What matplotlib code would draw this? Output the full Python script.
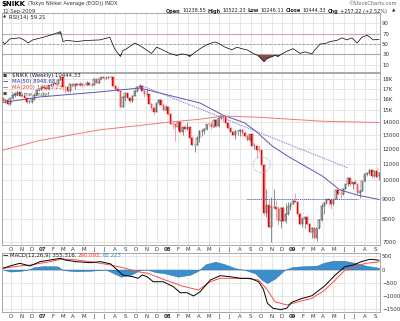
import matplotlib
matplotlib.use('Agg')
import matplotlib.pyplot as plt
import matplotlib.dates as mdates
from matplotlib.patches import Ellipse
import numpy as np
import pandas as pd

# weekly candles, $NIKK, week ending Friday
weeks = pd.date_range('2006-09-08', '2009-09-11', freq='W-FRI')

opens = [16150, 15850, 15950, 15560, 16127, 16436, 16537, 16651, 16351, 16350, 16113, 15725, 15734, 16000, 16417, 16900, 16900,
         17225, 17091, 16942, 17371, 17421, 17547, 17504, 17897, 18188, 17217, 17164, 16744, 17481, 17288, 17490, 17364, 17452,
         17400, 17394, 17553, 17399, 17417, 17979, 17638, 18001, 18189, 18138, 18140, 18238, 18157, 17283, 16979, 16765, 15273,
         16248, 16569, 16122, 15800, 16313, 16786, 17200, 17331, 16814, 16505, 16517, 15583, 15200, 14888, 15680, 15956, 15514,
         15031,
         15307, 14691, 13863, 13861, 13630, 14000, 13207, 13622, 13500, 13603, 12782, 12241, 12260, 12820, 13293, 13323, 13476,
         13863, 13849, 13655, 14219, 13690, 14338, 14489, 14400, 13942, 13544, 13237, 13039, 13334, 13334, 13376, 13168, 12956,
         12666, 13072, 12212, 12214, 11920, 11893, 10938, 8276, 8693, 7649, 8576, 8583, 8462, 7910, 8512, 7917, 8235, 8588,
         8739, 8859, 8836, 8230, 7745, 7994, 8076, 7779, 7416, 7568, 7173, 7569, 7945, 8626, 8749, 8964, 8907, 8707, 8977, 9432,
         9265, 9225, 9523, 9768, 10135, 9786, 9877, 9816, 9287, 9395, 9944, 10357, 10412, 10597, 10238, 10534, 10238]
highs = [16250, 16000, 16050, 16150, 16450, 16550, 16800, 16700, 16450, 16400, 16200, 15900, 16150, 16450, 16950, 17100, 17250,
         17400, 17150, 17400, 17600, 17600, 17650, 17950, 18300, 18250, 17300, 17300, 17500, 17550, 17550, 17600, 17650, 17550,
         17450, 17800, 17650, 17600, 18000, 18150, 18050, 18250, 18200, 18300, 18300, 18270, 18200, 17400, 17300, 16800, 16300,
         16600, 16650, 16150, 16400, 16850, 17250, 17450, 17350, 16900, 16950, 16550, 15700, 15400, 15700, 16000, 16050, 15550,
         15450,
         15350, 14750, 14000, 13900, 14050, 14000, 13700, 13900, 14000, 13650, 12950, 12300, 12900, 13400, 13500, 13550, 13900,
         14000, 14100, 14250, 14300, 14400, 14600, 14550, 14500, 14000, 13600, 13350, 13400, 13400, 13450, 13400, 13350, 13000,
         13100, 13100, 12450, 12250, 12250, 11900, 10950, 9500, 9000, 9100, 9500, 8900, 8600, 8550, 8600, 8750, 8800, 8800,
         8900, 9300, 8850, 8300, 8100, 8100, 8150, 7800, 7650, 7600, 7600, 8000, 8700, 8800, 9000, 9050, 8950, 9000, 9450,
         9500, 9400, 9550, 9800, 10150, 10200, 9900, 10100, 9850, 9450, 9950, 10400, 10450, 10650, 10600, 10550, 10770, 10522]
lows = [15750, 15700, 15450, 15500, 16000, 16250, 16450, 16300, 16250, 15950, 15600, 15620, 15700, 15950, 16400, 16800, 16880,
        17000, 16850, 16900, 17300, 17250, 17400, 17500, 17880, 16900, 16550, 16600, 16740, 17150, 17000, 17300, 17250, 17200,
        17250, 17350, 17300, 17250, 17400, 17550, 17600, 17950, 17900, 18000, 18100, 17950, 17200, 16850, 16700, 15250, 15300,
        15850, 16050, 15700, 15750, 16300, 16700, 17050, 16750, 16250, 16300, 15550, 15050, 14650, 14850, 15450, 15450, 14950,
        15000,
        14650, 13800, 13500, 12570, 13400, 13150, 13000, 13300, 13400, 12700, 12200, 11790, 12250, 12500, 12950, 13100, 13400,
        13700, 13500, 13600, 13650, 13600, 14200, 14000, 13900, 13500, 13200, 12900, 12700, 13000, 12900, 12950, 12850, 12600,
        12550, 12200, 12000, 11400, 11800, 10900, 8200, 8100, 7600, 6995, 8500, 8000, 7700, 7600, 7850, 7800, 8200, 8400,
        8700, 8800, 8100, 7700, 7650, 7600, 7700, 7350, 7150, 7150, 7054, 7550, 7900, 8250, 8700, 8650, 8450, 8650, 8950,
        9200, 9050, 9200, 9500, 9700, 9700, 9500, 9800, 9250, 9050, 9380, 9900, 10250, 10300, 10150, 10200, 10150, 10046]
closes = [15850, 15950, 15560, 16127, 16436, 16537, 16651, 16351, 16350, 16113, 15725, 15734, 16000, 16417, 16900, 16900, 17225,
          17091, 16942, 17371, 17421, 17547, 17504, 17897, 18188, 17217, 17164, 16744, 17481, 17288, 17490, 17364, 17452, 17400,
          17394, 17553, 17399, 17417, 17979, 17638, 18001, 18189, 18138, 18140, 18238, 18157, 17283, 16979, 16765, 15273, 16248,
          16569, 16122, 15800, 16313, 16786, 17200, 17331, 16814, 16505, 16517, 15583, 15200, 14888, 15680, 15956, 15514, 15031,
          15307,
          14691, 13863, 13861, 13630, 14000, 13207, 13622, 13500, 13603, 12782, 12241, 12260, 12820, 13293, 13323, 13476, 13863,
          13849, 13655, 14219, 13690, 14338, 14489, 14400, 13942, 13544, 13237, 13039, 13334, 13334, 13376, 13168, 12956, 12666,
          13072, 12212, 12214, 11920, 11893, 10938, 8276, 8693, 7649, 8576, 8583, 8462, 7910, 8512, 7917, 8235, 8588, 8739,
          8859, 8836, 8230, 7745, 7994, 8076, 7779, 7416, 7568, 7173, 7569, 7945, 8626, 8749, 8964, 8907, 8707, 8977, 9432, 9265,
          9225, 9523, 9768, 10135, 9786, 9877, 9816, 9287, 9395, 9944, 10357, 10412, 10597, 10238, 10534, 10187, 10444]

# moving averages
ma50_dates = ['2006-09-08', '2006-12-24', '2007-06-14', '2007-10-13', '2008-04-06', '2008-06-11', '2008-08-14',
              '2008-09-18', '2008-11-03', '2008-12-23', '2009-03-29', '2009-05-19', '2009-07-08', '2009-09-11']
ma50_vals = [15700, 16220, 16690, 17080, 15660, 14610, 13960, 13250, 12200, 11440, 10260, 9470, 9190, 8949]
ma200_dates = ['2006-09-08', '2006-12-24', '2007-06-14', '2008-01-05', '2008-04-06', '2008-06-11', '2008-09-18',
               '2008-12-23', '2009-03-29', '2009-09-11']
ma200_vals = [11920, 12600, 13390, 14010, 14260, 14520, 14430, 14260, 14090, 13985]

# drawn annotations
trend_dates = ['2007-10-13', '2009-06-12']
trend_vals = [17390, 10750]
support_dates = ['2008-08-21', '2009-07-12']
support_vals = [9000, 9000]

# RSI(14)
rsi_dates = ['2006-09-08', '2006-09-13', '2006-09-28', '2006-10-27', '2006-11-11', '2006-11-20', '2006-12-04',
             '2007-01-03', '2007-02-07', '2007-02-23', '2007-03-02', '2007-03-14', '2007-04-12', '2007-05-11',
             '2007-06-18', '2007-07-17', '2007-07-31', '2007-08-17', '2007-08-24', '2007-09-04', '2007-09-28',
             '2007-10-13', '2007-10-27', '2007-11-16', '2007-12-01', '2007-12-18', '2008-01-08', '2008-01-29',
             '2008-02-13', '2008-02-28', '2008-03-07', '2008-03-22', '2008-04-06', '2008-04-26', '2008-05-19',
             '2008-05-28', '2008-06-18', '2008-07-08', '2008-07-23', '2008-08-06', '2008-08-21', '2008-09-08',
             '2008-09-22', '2008-10-10', '2008-10-17', '2008-10-27', '2008-11-11', '2008-11-20', '2008-12-01',
             '2008-12-19', '2009-01-03', '2009-01-23', '2009-02-07', '2009-02-27', '2009-03-08', '2009-03-23',
             '2009-04-12', '2009-04-21', '2009-05-11', '2009-05-26', '2009-06-09', '2009-06-24', '2009-07-09',
             '2009-07-23', '2009-08-07', '2009-08-16', '2009-08-25', '2009-09-11']
rsi_vals = [54, 50, 60, 62, 57, 52, 58, 63, 70, 74, 55, 57, 55, 57, 58, 63, 41, 26, 37, 41, 52, 47, 41, 32, 44, 39, 32,
            28, 31, 29, 26, 34, 41, 49, 54, 52, 44, 39, 44, 41, 39, 32, 28, 16, 21, 24, 28, 26, 31, 37, 41, 32, 35, 31,
            39, 50, 52, 55, 57, 62, 58, 62, 52, 63, 67, 63, 58, 59.21]

# MACD(12,26,9)
macd_dates = ['2006-09-08', '2006-09-28', '2006-10-27', '2006-11-26', '2006-12-25', '2007-01-24', '2007-02-23',
              '2007-03-09', '2007-04-08', '2007-05-21', '2007-06-20', '2007-07-20', '2007-08-24', '2007-09-22',
              '2007-10-08', '2007-10-20', '2007-11-03', '2007-11-21', '2007-12-20', '2008-01-19', '2008-02-08',
              '2008-02-28', '2008-03-18', '2008-04-06', '2008-05-06', '2008-06-04', '2008-07-03', '2008-08-01',
              '2008-08-31', '2008-09-24', '2008-10-08', '2008-10-20', '2008-11-05', '2008-11-28', '2008-12-15',
              '2008-12-30', '2009-01-30', '2009-02-27', '2009-04-06', '2009-05-06', '2009-06-04', '2009-06-28',
              '2009-07-21', '2009-08-16', '2009-09-11']
macd_vals = [45, 134, 237, 134, 300, 363, 427, 363, 300, 260, 300, 210, -210, -275, -336, -210, -275, -466, -466,
             -656, -885, -885, -1011, -850, -400, -237, -275, -336, -336, -466, -750, -1290, -1480, -1530, -1480,
             -1250, -1100, -1000, -620, -210, 110, 170, 300, 390, 355.316]
signal_dates = ['2006-09-08', '2006-10-27', '2006-11-26', '2007-01-24', '2007-02-23', '2007-03-24', '2007-05-21',
                '2007-07-20', '2007-08-19', '2007-10-08', '2007-11-06', '2007-12-26', '2008-02-14', '2008-04-01',
                '2008-05-06', '2008-06-04', '2008-08-16', '2008-09-24', '2008-10-20', '2008-11-11', '2008-12-15',
                '2009-01-30', '2009-02-27', '2009-04-06', '2009-05-06', '2009-06-04', '2009-07-04', '2009-08-03',
                '2009-09-11']
signal_vals = [45, 134, 170, 300, 390, 390, 300, 170, 85, -85, -145, -400, -630, -782, -466, -336, -336, -400, -780,
               -1230, -1355, -1190, -1100, -782, -400, -20, 107, 237, 290.093]
hist_dates = ['2006-09-08', '2006-09-28', '2006-10-27', '2006-11-20', '2006-12-10', '2007-01-08', '2007-02-15',
              '2007-03-02', '2007-04-08', '2007-05-21', '2007-07-05', '2007-07-29', '2007-08-19', '2007-09-17',
              '2007-10-13', '2007-11-03', '2007-11-27', '2007-12-26', '2008-02-02', '2008-03-09', '2008-04-01',
              '2008-04-22', '2008-05-21', '2008-06-18', '2008-07-18', '2008-08-16', '2008-09-14', '2008-10-04',
              '2008-10-19', '2008-11-11', '2008-12-11', '2009-01-03', '2009-02-07', '2009-03-14', '2009-04-01',
              '2009-05-01', '2009-06-04', '2009-07-04', '2009-08-03', '2009-09-11']
hist_vals = [0, -80, -60, 0, 100, 130, 120, -20, -70, -50, 0, -150, -275, -200, -30, 0, -100, -150, -275, -200, -50,
             200, 300, 200, 50, -20, -150, -400, -520, -350, 0, 100, 130, 150, 250, 340, 330, 250, 150, 65.223]

W, H = 400, 321
FS = 3.9


def rect(x0, y0, x1, y1):
    return [x0 / W, 1 - y1 / H, (x1 - x0) / W, (y1 - y0) / H]


def ftext(x, y, s, **kw):
    kw.setdefault('fontsize', FS)
    kw.setdefault('va', 'center')
    return fig.text(x / W, 1 - y / H, s, **kw)


def chain(x, y, parts, gap=1.8):
    # place texts one after another, measuring each
    r = fig.canvas.get_renderer()
    for s, kw in parts:
        t = ftext(x, y, s, **kw)
        bb = t.get_window_extent(r)
        x = bb.x1 + gap
    return x


d = lambda lst: pd.to_datetime(lst)

fig = plt.figure(figsize=(4, 3.21), dpi=100)
fig.patch.set_facecolor('white')

x0 = pd.Timestamp('2006-09-05')
x1 = pd.Timestamp('2009-09-14')
months = pd.date_range('2006-10-01', '2009-09-01', freq='MS')
mlabels = [m.strftime('%y') if m.month == 1 else m.strftime('%b')[0] for m in months]

ax_rsi = fig.add_axes(rect(2, 13, 380, 72))
ax = fig.add_axes(rect(2, 73, 380, 245))
ax_m = fig.add_axes(rect(2, 253, 380, 312))

for a in (ax_rsi, ax, ax_m):
    a.set_xlim(x0, x1)
    a.set_xticks(months)
    a.yaxis.tick_right()
    a.tick_params(length=0, labelsize=FS, pad=1.5, colors='#333333')
    a.grid(True, color='#dcdcdc', lw=0.5)
    a.set_axisbelow(True)
    for s in a.spines.values():
        s.set_color('#9a9a9a')
        s.set_linewidth(0.6)

# RSI panel
ax_rsi.set_ylim(-4, 110)
ax_rsi.set_yticks([10, 30, 50, 70, 90])
ax_rsi.set_xticklabels([])
ax_rsi.axhline(70, color='#c8a8a8', lw=0.8)
ax_rsi.axhline(30, color='#a8a8a8', lw=0.8)
ax_rsi.axhline(50, color='#888888', lw=0.5, ls=(0, (4, 2)))
rd = d(rsi_dates)
rv = np.array(rsi_vals, dtype=float)
ax_rsi.fill_between(rd, rv, 30, where=rv < 30, interpolate=True, color='#8b4848', lw=0)
ax_rsi.fill_between(rd, rv, 70, where=rv > 70, interpolate=True, color='#4a6a8a', lw=0)
ax_rsi.plot(rd, rv, color='black', lw=0.5)

# main price panel (log scale)
ax.set_yscale('log')
ax.set_ylim(6874, 18637)
pticks = [7000, 8000, 9000, 10000, 11000, 12000, 13000, 14000, 15000, 16000, 17000, 18000]
ax.set_yticks(pticks)
ax.set_yticklabels([str(t) if t < 15000 else '%dK' % (t // 1000) for t in pticks])
ax.yaxis.set_minor_locator(matplotlib.ticker.NullLocator())
ax.set_xticklabels(mlabels)
for lbl, m in zip(ax.get_xticklabels(), months):
    if m.month == 1:
        lbl.set_fontweight('bold')

o = np.array(opens, dtype=float)
h = np.array(highs, dtype=float)
l = np.array(lows, dtype=float)
c = np.array(closes, dtype=float)
prev = np.concatenate([[o[0]], c[:-1]])
down = c < prev
cols = np.where(down, '#e00000', '#202020')
wick = np.where(down, '#f08080', '#606060')
ax.vlines(weeks, l, h, colors=wick, lw=0.5)
filled = c < o
lo_b = np.minimum(o, c)
hi_b = np.maximum(o, c)
ax.bar(weeks, hi_b - lo_b, bottom=lo_b, width=4.5, color=np.where(filled, cols, 'white'),
       edgecolor=cols, linewidth=0.35)

ax.plot(d(ma50_dates), ma50_vals, color='#5858b0', lw=0.7)
ax.plot(d(ma200_dates), ma200_vals, color='#f07878', lw=0.7)
ax.plot(d(trend_dates), trend_vals, color='#6a6ad0', lw=0.7, ls=(0, (1, 1)))
ax.plot(d(support_dates), support_vals, color='#5050c0', lw=0.7, ls=(0, (1, 1)))
ell = Ellipse((mdates.date2num(pd.Timestamp('2008-10-03')), 10950), width=50, height=1000,
              fill=False, edgecolor='#8aa8d8', lw=0.6, ls=(0, (1, 1)))
ax.add_patch(ell)

# legend inside main panel
lx = 12
ftext(3, 76, '\u25a0', color='#444444', fontsize=3.2)
ftext(lx, 76, '$NIKK (Weekly) 10444.33', color='#222222')
ftext(3, 82, '\u2014', color='#3030a0', fontweight='bold')
ftext(lx, 82, 'MA(50) 8948.68', color='#3030a0')
ftext(3, 88, '\u2014', color='#e04040', fontweight='bold')
ftext(lx, 88, 'MA(200) 13985.23', color='#e04040')
ftext(3, 94, '\u25a0', color='#555555', fontsize=3.2)
ftext(lx, 94, 'Volume undef', color='#555555')

# MACD panel
ax_m.set_ylim(-1622, 630)
ax_m.set_yticks([500, 0, -500, -1000, -1500])
ax_m.set_xticklabels(mlabels)
for lbl, m in zip(ax_m.get_xticklabels(), months):
    if m.month == 1:
        lbl.set_fontweight('bold')
hd = d(hist_dates)
ax_m.fill_between(hd, 0, hist_vals, color='#3d8fcc', lw=0.3, edgecolor='#2a70a8')
ax_m.plot(d(signal_dates), signal_vals, color='#ff4a4a', lw=0.7)
ax_m.plot(d(macd_dates), macd_vals, color='black', lw=0.7)
ftext(3, 255.5, '\u2014', color='black', fontweight='bold')
chain(10, 255.5, [('MACD(12,26,9) 355.316,', dict(color='#222222')),
                  ('290.093,', dict(color='#ff3030')),
                  ('65.223', dict(color='#3d8fcc'))], gap=1.2)

# header
chain(2, 4, [('$NIKK', dict(fontweight='bold', fontsize=5)),
             ('(Tokyo Nikkei Average (EOD)) INDX', dict(color='#333333', fontsize=3.7))], gap=1.5)
ftext(2, 11, '11-Sep-2009', color='#333333', fontsize=3.7)
ftext(397, 3.5, '\u00a9StockCharts.com', color='#666666', ha='right', fontsize=3.7)
row = [('Open', True), ('10238.55', False), ('High', True), ('10522.23', False),
       ('Low', True), ('10246.11', False), ('Close', True), ('10444.33', False),
       ('Chg', True), ('+257.22 (+2.52%)', False)]
chain(166, 11, [(s, dict(fontweight='bold' if b else 'normal', color='#222222', fontsize=3.6)) for s, b in row],
      gap=1.6)
ftext(392, 11, '\u25b2', fontsize=3.2, color='#222222')
ftext(3, 17, '\u25b2', fontsize=3, color='#333333')
ftext(9, 17, 'RSI(14) 59.21', color='#222222')

fig.savefig('out.png', dpi=100)
